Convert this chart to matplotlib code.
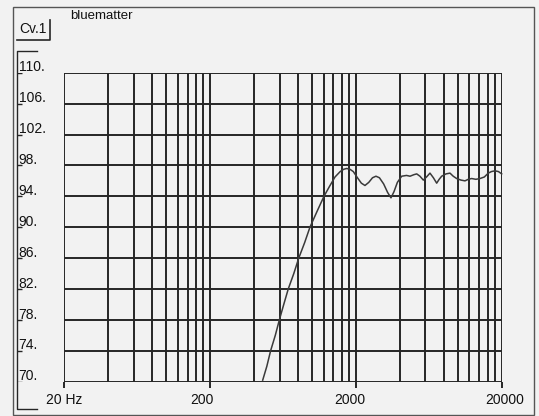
import numpy as np
import matplotlib.pyplot as plt
import matplotlib.transforms as mtransforms
from matplotlib.patches import Rectangle

plt.rcParams['font.family'] = ['Liberation Sans', 'DejaVu Sans']

# frequency response
freq = [459, 490, 520, 560, 597, 640, 687, 750, 811, 890, 968, 1080, 1208, 1320,
        1438, 1560, 1650, 1730, 1820, 1920, 2050, 2180, 2308, 2450, 2600, 2745,
        2900, 3100, 3300, 3480, 3650, 3850, 4120, 4450, 4700, 5000, 5226, 5500,
        5800, 6100, 6443, 6800, 7162, 7450, 7750, 8300, 8840, 9300, 9820, 10500,
        11200, 11800, 12440, 13300, 14200, 15200, 16180, 17000, 17990, 19000, 20000]
spl = [70.2, 72.0, 74.0, 76.0, 78.0, 80.0, 82.0, 84.0, 86.0, 88.0, 90.0, 92.0, 94.0, 95.3,
       96.5, 97.2, 97.5, 97.6, 97.5, 97.2, 96.4, 95.7, 95.4, 95.8, 96.4, 96.6,
       96.4, 95.6, 94.5, 93.8, 94.6, 95.8, 96.6, 96.7, 96.6, 96.8, 96.9, 96.6,
       96.1, 96.5, 97.0, 96.4, 95.7, 96.2, 96.6, 96.9, 97.0, 96.6, 96.3, 96.1,
       96.0, 96.2, 96.3, 96.2, 96.3, 96.5, 97.0, 97.2, 97.3, 97.2, 96.9]

x_major = [20, 200, 2000, 20000]
x_labels = ['20 Hz', '200', '2000', '20000']
x_label_shift = [0, -8, -6, 3]  # px, as the labels sit in the picture
x_minor = [m * d for d in (20, 200, 2000) for m in range(2, 10)]
y_ticks = list(range(70, 111, 4))
y_labels = ['%d.' % v for v in y_ticks]

W, H = 539, 416
bg = '#f2f2f2'
ink = '#262626'

fig = plt.figure(figsize=(W / 100, H / 100), dpi=100, facecolor=bg)

# decoration layer in pixel coordinates
deco = fig.add_axes([0, 0, 1, 1])
deco.set_xlim(0, W)
deco.set_ylim(H, 0)
deco.axis('off')
deco.add_patch(Rectangle((12.5, 6.5), 521.5, 408.5, fill=False, ec='#555555', lw=1.0))
deco.plot([37, 17, 17, 37], [50.5, 50.5, 409, 409], color=ink, lw=1.0)
deco.plot([17, 50, 50], [39.5, 39.5, 20], color=ink, lw=1.2)
deco.text(19, 29, 'Cv.1', fontsize=10, ha='left', va='center', color='#111111')
deco.text(70, 16, 'bluematter', fontsize=9.5, ha='left', va='center', color='#111111')

left, right, top, bottom = 64.3, 501.7, 72.7, 381.7
pos = [left / W, (H - bottom) / H, (right - left) / W, (bottom - top) / H]

# y labels with small ticks on the left bracket
lab = fig.add_axes([17 / W, pos[1], 40 / W, pos[3]])
lab.set_xlim(0, 40)
lab.set_ylim(70, 110)
lab.axis('off')
lab.hlines(y_ticks, 0, 5, color=ink, lw=1.0)
for v, s in zip(y_ticks, y_labels):
    lab.annotate(s, (1.5, v), xytext=(0, 1.0), textcoords='offset points',
                 ha='left', va='baseline', fontsize=10, color='#111111')

ax = fig.add_axes(pos)
ax.set_facecolor('none')
ax.set_xscale('log')
ax.set_xlim(20, 20000)
ax.set_ylim(70, 110)
for s in ax.spines.values():
    s.set_visible(False)

ax.set_xticks(x_major, x_labels)
ax.set_xticks(x_minor, minor=True)
ax.xaxis.set_minor_formatter(plt.NullFormatter())
ax.set_yticks(y_ticks)
ax.tick_params(axis='y', left=False, labelleft=False)
ax.tick_params(axis='x', which='major', direction='out', length=4, width=1.4,
               color=ink, pad=4, labelsize=10, labelcolor='#111111')
ax.tick_params(axis='x', which='minor', length=0)
ax.grid(True, which='both', color=ink, lw=1.4)

for lbl, dx in zip(ax.get_xticklabels(), x_label_shift):
    lbl.set_transform(lbl.get_transform() + mtransforms.Affine2D().translate(dx, 0))

ax.plot(freq, spl, color='#3a3a3a', lw=1.1, clip_on=False)

fig.savefig('out.png', dpi=100, facecolor=bg)
